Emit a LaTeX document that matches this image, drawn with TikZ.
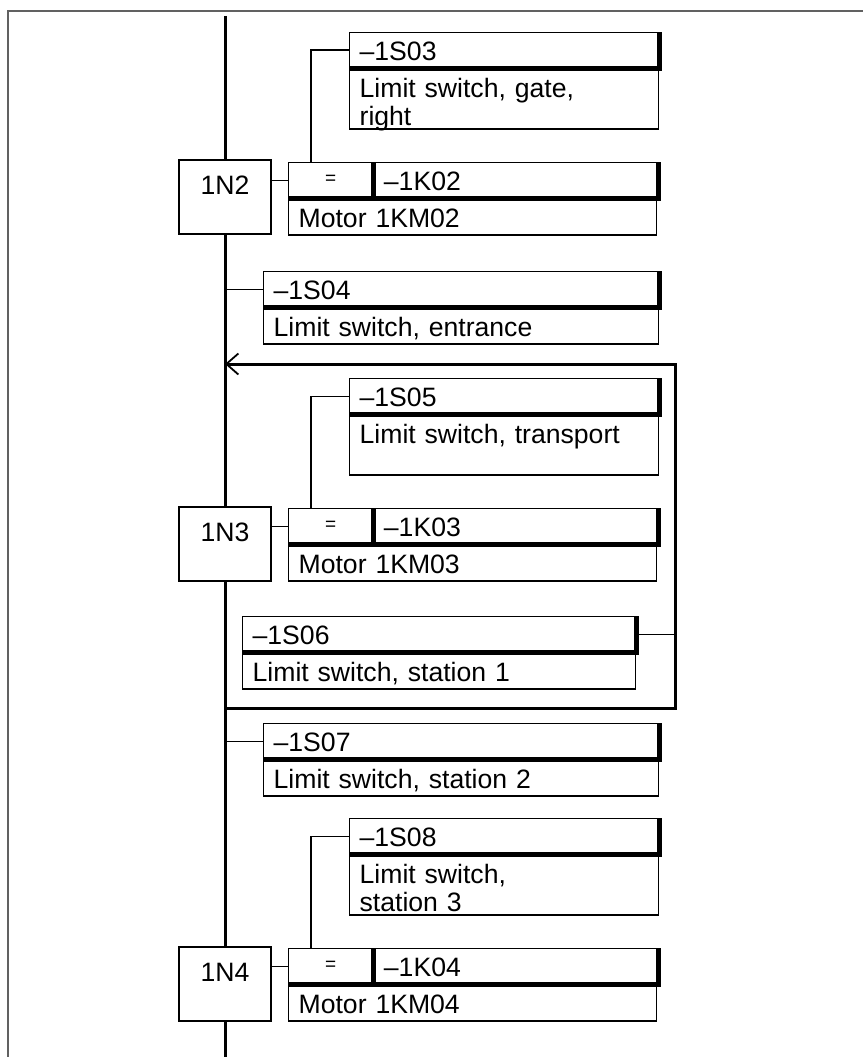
\documentclass[tikz,border=0pt]{standalone}
\usepackage{fontspec}
\setmainfont{Liberation Sans}
\usetikzlibrary{arrows.meta,positioning}

\begin{document}
\begin{tikzpicture}[
  x=1pt,y=-1pt,
  font=\fontsize{26.6}{28}\selectfont,
  wire/.style={line width=1.3pt},
  rail/.style={line width=3pt},
  loopline/.style={line width=3pt},
  bar/.style={line width=4.5pt},
  frame/.style={line width=2pt,draw=black!62},
  stepbox/.style={draw,line width=1.3pt,minimum width=92pt,inner sep=0pt,text height=34pt,text depth=40pt},
  head/.style={draw,line width=1.3pt,anchor=north west,inner xsep=10pt,inner ysep=0pt,text height=27.5pt,text depth=7.5pt,align=left,text width=#1},
  body/.style={draw,line width=1.3pt,anchor=north west,inner xsep=10pt,inner ysep=0pt,text height=28.5pt,text depth=7.5pt,align=left,text width=#1},
  tall/.style={text depth=31.5pt},
  eqcell/.style={draw,line width=1.3pt,anchor=north west,inner sep=0pt,minimum width=84pt,minimum height=35pt,font=\fontsize{19}{20}\selectfont}
]
\useasboundingbox (0,0) rectangle (863,1057);
\draw[frame] (8,1057) -- (8,11.5) -- (863,11.5);

% step 1N2
\node[stepbox] (n2) at (225,197) {1N2};
\node[eqcell] (eq2) at (288,162) {=};
\node[head=264pt,right=0pt of eq2] (k2) {–1K02};
\node[body=348pt] (m2) at (eq2.south west) {Motor 1KM02};
\node[head=289pt] (s3h) at (349,32) {–1S03};
\node[body=289pt,tall] (s3b) at (s3h.south west) {Limit switch, gate,\\right};

% transition 1S04
\node[head=375pt] (s4h) at (263,271) {–1S04};
\node[body=375pt] (s4b) at (s4h.south west) {Limit switch, entrance};

% step 1N3
\node[stepbox] (n3) at (225,544) {1N3};
\node[eqcell] (eq3) at (288,508) {=};
\node[head=264pt,right=0pt of eq3] (k3) {–1K03};
\node[body=348pt] (m3) at (eq3.south west) {Motor 1KM03};
\node[head=289pt] (s5h) at (349,378) {–1S05};
\node[body=289pt,tall] (s5b) at (s5h.south west) {Limit switch, transport};

% loop back 1S06
\node[head=373pt] (s6h) at (242,616) {–1S06};
\node[body=373pt] (s6b) at (s6h.south west) {Limit switch, station 1};
\coordinate (lt) at (675,364);
\coordinate (lb) at (675,708);

% transition 1S07
\node[head=375pt] (s7h) at (263,723) {–1S07};
\node[body=375pt] (s7b) at (s7h.south west) {Limit switch, station 2};

% step 1N4
\node[stepbox] (n4) at (225,984) {1N4};
\node[eqcell] (eq4) at (288,948) {=};
\node[head=264pt,right=0pt of eq4] (k4) {–1K04};
\node[body=348pt] (m4) at (eq4.south west) {Motor 1KM04};
\node[head=289pt] (s8h) at (349,818) {–1S08};
\node[body=289pt,tall] (s8b) at (s8h.south west) {Limit switch,\\station 3};

% thick edges of the heads
\foreach \h in {s3h,s4h,s5h,s6h,s7h,s8h}
  \draw[bar] (\h.south west) -- (\h.south east) -- (\h.north east);
\foreach \e/\k in {eq2/k2,eq3/k3,eq4/k4} {
  \draw[bar] (\e.south west) -- (\k.south east) -- (\k.north east);
  \draw[bar] (\e.south east) -- (\e.north east);
}

% rail
\coordinate (top) at (225,16);
\coordinate (bot) at (225,1057);
\draw[rail] (top) -- (n2.north);
\draw[rail] (n2.south) -- (n3.north);
\draw[rail] (n3.south) -- (n4.north);
\draw[rail] (n4.south) -- (bot);

% connectors
\draw[wire] (n2.east |- eq2.west) -- (eq2.west);
\draw[wire] (n3.east |- eq3.west) -- (eq3.west);
\draw[wire] (n4.east |- eq4.west) -- (eq4.west);
\draw[wire] (s3h.west) -| ([xshift=23pt]eq2.north west);
\draw[wire] (s5h.west) -| ([xshift=23pt]eq3.north west);
\draw[wire] (s8h.west) -| ([xshift=23pt]eq4.north west);
\draw[wire] (s4h.west -| n2.south) -- (s4h.west);
\draw[wire] (s7h.west -| n3.south) -- (s7h.west);
\draw[wire] (s6h.east) -- (s6h.east -| lt);
\draw[loopline,-{Straight Barb[length=12pt,width=21pt,line width=1.8pt]}]
  (lb -| n3.south) -- (lb) -- (lt) -- (lt -| n3.north);
\end{tikzpicture}
\end{document}
